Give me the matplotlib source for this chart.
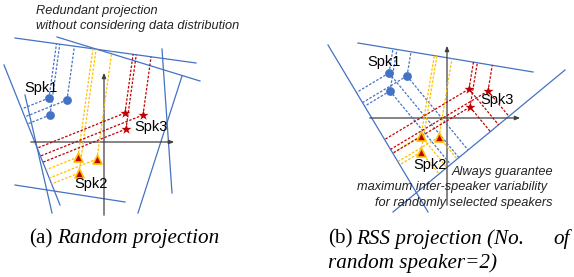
import numpy as np
import matplotlib
matplotlib.use("Agg")
import matplotlib.pyplot as plt

# ---------------- data (pixel coordinates of the diagram) ----------------
# Panel (a): random projection
a_spk1 = [(49, 98), (67, 100), (50, 115)]
a_spk2 = [(78, 157), (97, 159), (79, 173)]
a_spk3 = [(125, 113), (143, 115), (126, 129)]
a_lines = {
    "A": [(15, 38), (196, 63)],
    "B": [(57, 37), (200, 81)],
    "C": [(162, 49), (172, 193)],
    "D": [(182, 76), (138, 213)],
    "E": [(4, 65), (60, 205)],
    "F": [(25, 95), (52, 213)],
    "G": [(15, 185), (125, 202)],
}
a_targets = ["A", "E"]
a_axes_origin = (104, 142)
a_axes_ext = {"x": (28, 177), "y": (218, 70)}

# Panel (b): RSS projection
b_spk1 = [(389, 73), (407, 76), (390, 91)]
b_spk2 = [(421, 136), (439, 137), (421, 152)]
b_spk3 = [(469, 89), (488, 91), (470, 107)]
b_lines = {
    "T": [(358, 43), (533, 72)],
    "L": [(328, 45), (428, 212)],
    "R": [(565, 70), (393, 212)],
}
b_targets = ["T", "L", "R"]
b_axes_origin = (447, 118)
b_axes_ext = {"x": (367, 523), "y": (208, 43)}

speaker_labels = ["Spk1", "Spk2", "Spk3"]
a_label_pos = [(41, 88), (91, 184), (151, 127)]
b_label_pos = [(384, 62), (430, 165), (497, 100)]

BLUE = "#4472C4"
RED = "#C00000"
YELLOW = "#FFC000"
AXC = "#404040"

fig = plt.figure(figsize=(5.74, 2.77), dpi=100)
ax = fig.add_axes([0, 0, 1, 1])
ax.set_xlim(0, 574)
ax.set_ylim(277, 0)
ax.axis("off")


def foot(p, line):
    a = np.array(line[0], float)
    b = np.array(line[1], float)
    p = np.array(p, float)
    d = b - a
    t = np.dot(p - a, d) / np.dot(d, d)
    return a + t * d


def draw_panel(lines, targets, groups, origin, ext):
    for (x0, y0), (x1, y1) in lines.values():
        ax.plot([x0, x1], [y0, y1], color=BLUE, lw=0.9, zorder=2)
    ox, oy = origin
    ax.annotate("", xy=(ext["x"][1], oy), xytext=(ext["x"][0], oy),
                arrowprops=dict(arrowstyle="-|>,head_length=0.3,head_width=0.12",
                                color=AXC, lw=0.9), zorder=3)
    ax.annotate("", xy=(ox, ext["y"][1]), xytext=(ox, ext["y"][0]),
                arrowprops=dict(arrowstyle="-|>,head_length=0.3,head_width=0.12",
                                color=AXC, lw=0.9), zorder=3)
    for pts, col in groups:
        for p in pts:
            for k in targets:
                f = foot(p, lines[k])
                ax.plot([p[0], f[0]], [p[1], f[1]], color=col, lw=0.9,
                        ls=(0, (2.0, 1.3)), zorder=4)


for lines, targets, s1, s2, s3, origin, ext, lpos in [
    (a_lines, a_targets, a_spk1, a_spk2, a_spk3, a_axes_origin, a_axes_ext, a_label_pos),
    (b_lines, b_targets, b_spk1, b_spk2, b_spk3, b_axes_origin, b_axes_ext, b_label_pos),
]:
    draw_panel(lines, targets, [(s1, BLUE), (s2, YELLOW), (s3, RED)], origin, ext)
    x, y = zip(*s1)
    ax.scatter(x, y, s=40, color=BLUE, zorder=6, linewidths=0)
    x, y = zip(*s2)
    ax.scatter(x, y, s=42, marker="^", color=RED, edgecolors=YELLOW,
               linewidths=1.2, zorder=6)
    x, y = zip(*s3)
    ax.scatter(x, y, s=58, marker="*", color=RED, linewidths=0, zorder=6)
    for lab, (lx, ly) in zip(speaker_labels, lpos):
        ax.text(lx, ly, lab, fontsize=10.5, family="Liberation Sans",
                ha="center", va="center", zorder=7)

# annotations
it = dict(fontsize=9.2, family="Liberation Sans", style="italic",
          ha="left", va="center", color="#222222", zorder=8)
ax.text(36, 11, "Redundant projection", **it)
ax.text(36, 26, "without considering data distribution", **it)
ax.text(452, 172, "Always guarantee", **it)
ax.text(357, 187, "maximum inter-speaker variability", **it)
ax.text(375, 203, "for randomly selected speakers", **it)

# captions
cap = dict(fontsize=15.2, family="Liberation Serif", va="center", color="black")
ax.text(29, 239, "(a)", ha="left", **cap)
ax.text(57, 239, "Random projection", ha="left", style="italic", **cap)
ax.text(328, 239, "(b)", ha="left", **cap)
ax.text(356, 239, "RSS projection (No.", ha="left", style="italic", **cap)
ax.text(570, 239, "of", ha="right", style="italic", **cap)
ax.text(328, 263, "random speaker=2)", ha="left", style="italic", **cap)

fig.savefig("out.png", dpi=100)
